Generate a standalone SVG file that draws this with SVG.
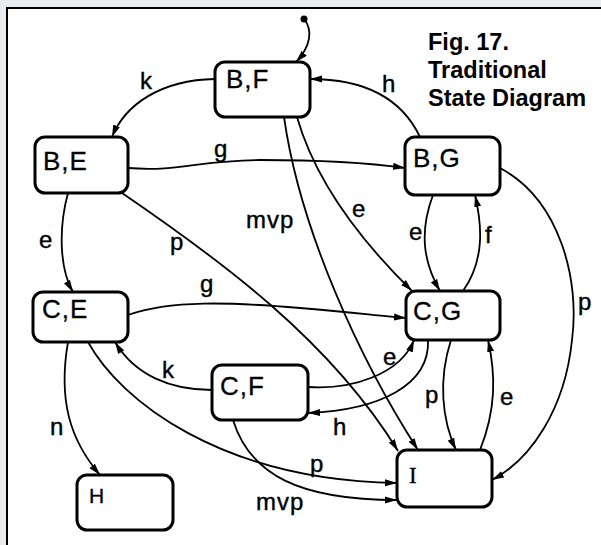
<svg xmlns="http://www.w3.org/2000/svg" width="601" height="545" viewBox="0 0 601 545">
  <defs>
    <marker id="arr" markerUnits="userSpaceOnUse" markerWidth="13" markerHeight="8" refX="12" refY="4" orient="auto">
      <path d="M0,0.5 L12,4 L0,7.5 z" fill="#000"/>
    </marker>
    <style>
      .node rect { fill: #fff; stroke: #000; stroke-width: 3; }
      .node text { font-family: "Liberation Sans", Arial, sans-serif; font-size: 26px; fill: #000; letter-spacing: 1px; stroke: #000; stroke-width: 0.3; }
      .edge { fill: none; stroke: #000; stroke-width: 1.8; marker-end: url(#arr); }
      .lbl { font-family: "Liberation Sans", Arial, sans-serif; font-size: 24px; fill: #000; letter-spacing: 1px; stroke: #000; stroke-width: 0.4; }
      .title { font-family: "Liberation Sans", Arial, sans-serif; font-size: 23.5px; font-weight: bold; fill: #000; }
    </style>
  </defs>

  <rect x="0" y="0" width="601" height="545" fill="#e8ecee"/>
  <rect x="7" y="8" width="600" height="545" fill="#fff" stroke="#000" stroke-width="2"/>

  <g id="title">
    <text class="title" x="428" y="50">Fig. 17.</text>
    <text class="title" x="428" y="78">Traditional</text>
    <text class="title" x="428" y="106">State Diagram</text>
  </g>

  <g id="connectors">
    <circle cx="304" cy="19" r="3.5" fill="#000"/>
    <path class="edge" d="M304,19 C313,30 311,46 296,62"/>
    <path class="edge" d="M215,79 C160,80 125,105 112,137"/>
    <path class="edge" d="M420,137 C400,95 360,79 310,79"/>
    <path class="edge" d="M128,168 C180,172 200,160 260,160 C320,160 370,163 405,168"/>
    <path class="edge" d="M68,193 C58,230 60,270 73,292"/>
    <path class="edge" d="M122,193 C220,260 330,340 398,451"/>
    <path class="edge" d="M284,117 C300,230 360,360 418,450"/>
    <path class="edge" d="M297,117 C315,180 360,240 412,291"/>
    <path class="edge" d="M433,195 C418,235 425,265 440,291"/>
    <path class="edge" d="M463,291 C485,260 482,225 475,195"/>
    <path class="edge" d="M500,168 C560,200 580,280 572,340 C565,410 530,460 492,480"/>
    <path class="edge" d="M128,315 C170,300 230,302 300,308 C350,312 380,316 406,318"/>
    <path class="edge" d="M212,390 C170,390 135,375 115,342"/>
    <path class="edge" d="M308,387 C350,390 400,375 414,340"/>
    <path class="edge" d="M428,340 C430,385 380,410 308,413"/>
    <path class="edge" d="M451,340 C438,380 442,420 456,450"/>
    <path class="edge" d="M480,450 C496,410 496,375 488,340"/>
    <path class="edge" d="M68,342 C58,400 70,440 100,475"/>
    <path class="edge" d="M88,342 C120,400 220,480 397,483"/>
    <path class="edge" d="M233,420 C250,475 300,500 397,500"/>
  </g>

  <g id="labels">
    <text class="lbl" x="140" y="89">k</text>
    <text class="lbl" x="382" y="92">h</text>
    <text class="lbl" x="214" y="157">g</text>
    <text class="lbl" x="39" y="248">e</text>
    <text class="lbl" x="170" y="250">p</text>
    <text class="lbl" x="246" y="228">mvp</text>
    <text class="lbl" x="352" y="217">e</text>
    <text class="lbl" x="409" y="240">e</text>
    <text class="lbl" x="485" y="243">f</text>
    <text class="lbl" x="578" y="310">p</text>
    <text class="lbl" x="200" y="292">g</text>
    <text class="lbl" x="162" y="378">k</text>
    <text class="lbl" x="383" y="365">e</text>
    <text class="lbl" x="333" y="435">h</text>
    <text class="lbl" x="425" y="403">p</text>
    <text class="lbl" x="500" y="405">e</text>
    <text class="lbl" x="50" y="435">n</text>
    <text class="lbl" x="310" y="472">p</text>
    <text class="lbl" x="256" y="510">mvp</text>
  </g>

  <g id="node-BF" class="node"><rect x="215" y="62" width="95" height="55" rx="10"/><text x="226" y="88">B,F</text></g>
  <g id="node-BE" class="node"><rect x="35" y="137" width="93" height="56" rx="10"/><text x="43" y="170">B,E</text></g>
  <g id="node-BG" class="node"><rect x="405" y="137" width="95" height="58" rx="10"/><text x="413" y="167">B,G</text></g>
  <g id="node-CG" class="node"><rect x="406" y="291" width="94" height="49" rx="10"/><text x="413" y="320">C,G</text></g>
  <g id="node-CE" class="node"><rect x="33" y="292" width="95" height="50" rx="10"/><text x="42" y="318">C,E</text></g>
  <g id="node-CF" class="node"><rect x="212" y="365" width="96" height="55" rx="10"/><text x="220" y="395">C,F</text></g>
  <g id="node-H" class="node"><rect x="77" y="475" width="96" height="55" rx="10"/><text x="89" y="503" style="font-size:21px">H</text></g>
  <g id="node-I" class="node"><rect x="397" y="450" width="95" height="57" rx="10"/><text x="409" y="483" style="font-family:'Liberation Serif',serif;font-size:23px">I</text></g>
</svg>
